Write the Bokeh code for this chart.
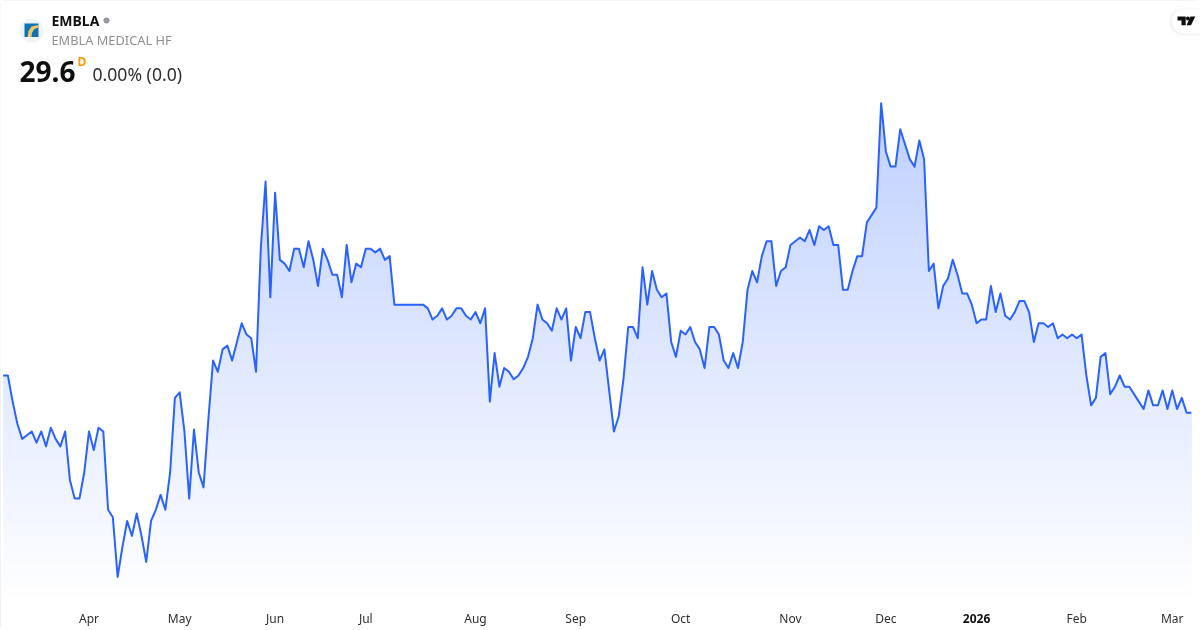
from bokeh.plotting import figure
from bokeh.models import Range1d, FixedTicker, Label, BoxAnnotation, LinearAxis
from bokeh.embed import file_html
from bokeh.resources import INLINE
import numpy as np

prices = [
    30.6, 30.6, 29.9, 29.3, 28.9, 29.0, 29.1, 28.8, 29.1, 28.7,
    29.2, 28.9, 28.7, 29.1, 27.8, 27.3, 27.3, 28.0, 29.1, 28.6,
    29.2, 29.1, 27.0, 26.8, 25.2, 26.0, 26.7, 26.3, 26.9, 26.3,
    25.6, 26.7, 27.0, 27.4, 27.0, 28.0, 30.0, 30.15, 29.1, 27.3,
    29.15, 28.0, 27.6, 29.4, 31.0, 30.7, 31.3, 31.4, 31.0, 31.5,
    32.0, 31.7, 31.6, 30.7, 34.0, 35.8, 32.7, 35.5, 33.7, 33.6,
    33.4, 34.0, 34.0, 33.5, 34.2, 33.7, 33.0, 34.0, 33.7, 33.3,
    33.3, 32.7, 34.1, 33.1, 33.6, 33.5, 34.0, 34.0, 33.9, 34.0,
    33.7, 33.8, 32.5, 32.5, 32.5, 32.5, 32.5, 32.5, 32.5, 32.4,
    32.1, 32.2, 32.4, 32.1, 32.2, 32.4, 32.4, 32.2, 32.1, 32.3,
    32.0, 32.4, 29.9, 31.2, 30.3, 30.8, 30.7, 30.5, 30.6, 30.8,
    31.1, 31.6, 32.5, 32.1, 32.0, 31.8, 32.4, 32.1, 32.4, 31.0,
    31.9, 31.6, 32.3, 32.3, 31.6, 31.0, 31.3, 30.2, 29.1, 29.5,
    30.5, 31.9, 31.9, 31.6, 33.5, 32.5, 33.4, 32.9, 32.7, 32.8,
    31.5, 31.1, 31.8, 31.7, 31.9, 31.5, 31.3, 30.8, 31.9, 31.9,
    31.7, 31.0, 30.8, 31.2, 30.8, 31.5, 32.9, 33.4, 33.1, 33.8,
    34.2, 34.2, 33.0, 33.4, 33.5, 34.1, 34.2, 34.3, 34.2, 34.5,
    34.1, 34.6, 34.5, 34.6, 34.1, 34.1, 32.9, 32.9, 33.4, 33.8,
    33.8, 34.7, 34.9, 35.1, 37.9, 36.6, 36.2, 36.2, 37.2, 36.8,
    36.4, 36.2, 36.9, 36.4, 33.4, 33.6, 32.4, 33.0, 33.2, 33.7,
    33.3, 32.8, 32.8, 32.5, 32.0, 32.1, 32.1, 33.0, 32.3, 32.8,
    32.2, 32.1, 32.3, 32.6, 32.6, 32.3, 31.5, 32.0, 32.0, 31.9,
    32.0, 31.6, 31.7, 31.6, 31.7, 31.6, 31.7, 30.6, 29.8, 30.0,
    31.1, 31.2, 30.1, 30.3, 30.6, 30.3, 30.3, 30.1, 29.9, 29.7,
    30.2, 29.8, 29.8, 30.2, 29.7, 30.2, 29.7, 30.0, 29.6, 29.6,
]
tick_positions = [18, 37, 57, 76, 99, 120, 142, 165, 185, 225, 245]
tick_labels = ["Apr", "May", "Jun", "Jul", "Aug", "Sep", "Oct", "Nov", "Dec", "Feb", "Mar"]
year_position = 204
year_label = "2026"
symbol = "EMBLA"
company = "EMBLA MEDICAL HF"
last_price = "29.6"
change_text = "0.00% (0.0)"

W, H, FRAME_H = 1200, 630, 602
X0, DX = 2.6, 4.772
Y_LAST, PX_PER_UNIT = 412.3, 37.3
FONT = "Noto Sans"
INK, SOFT_INK = "#0f0f0f", "#2e2e2e"


def X(px):
    return (px - X0) / DX


def Y(px):
    return prices[-1] + (Y_LAST - px) / PX_PER_UNIT


p = figure(
    width=W, height=H, output_backend="svg", toolbar_location=None,
    x_range=Range1d(X(0), X(W)), y_range=Range1d(Y(FRAME_H), Y(0)),
    min_border=0, min_border_bottom=H - FRAME_H, min_border_left=0, min_border_right=0, min_border_top=0,
    outline_line_color=None, background_fill_color="white", border_fill_color="white",
)
p.styles = {"position": "fixed", "left": "0", "top": "0", "outline": "1px solid #e6e7ea",
            "outline-offset": "-1px", "border-radius": "5px"}
p.grid.visible = False
p.yaxis.visible = False


def style_axis(a, positions, labels, standoff, font_style="normal", color=SOFT_INK):
    a.ticker = FixedTicker(ticks=positions)
    a.major_label_overrides = dict(zip(positions, labels))
    a.axis_line_color = None
    a.major_tick_line_color = None
    a.minor_tick_line_color = None
    a.major_label_text_font = FONT
    a.major_label_text_font_size = "12px"
    a.major_label_text_font_style = font_style
    a.major_label_text_color = color
    a.major_label_standoff = standoff


style_axis(p.xaxis[0], tick_positions, tick_labels, 1)
year_axis = LinearAxis()
style_axis(year_axis, [year_position], [year_label], -22, "bold", INK)
p.add_layout(year_axis, "below")

xs = np.arange(len(prices), dtype=float)
ys = np.array(prices)

# gradient under the line: each band runs to the pane bottom, white mask above the line
top_px = Y_LAST - (ys.max() - prices[-1]) * PX_PER_UNIT
edges = np.arange(np.floor(top_px), FRAME_H, 2.0)
fracs = 1 - (edges + 1 - top_px) / (FRAME_H - top_px)
alphas = 0.3 * np.clip(fracs, 0, 1)
cols = ["#%02x%02x%02x" % (round(255 + (41 - 255) * a), round(255 + (98 - 255) * a), 255) for a in alphas]
p.quad(left=xs[0], right=xs[-1], top=Y(edges), bottom=Y(FRAME_H), fill_color=cols, line_color=None)
mask_x = np.concatenate(([xs[0] - 1], xs, [xs[-1] + 1]))
mask_y = np.concatenate(([ys[0]], ys, [ys[-1]]))
p.varea(x=mask_x, y1=mask_y, y2=Y(0), fill_color="white")
p.line(xs, ys, line_color="#2962ff", line_width=2, line_join="round")


def txt(px, py, s, size, color, style="normal"):
    p.add_layout(Label(x=X(px), y=Y(py), text=s, text_font=FONT, text_font_size=size, text_color=color,
                       text_font_style=style, text_baseline="middle"))


def box(l, t, r, b, fill, radius=0, alpha=1.0):
    p.add_layout(BoxAnnotation(left=X(l), right=X(r), top=Y(t), bottom=Y(b), fill_color=fill, fill_alpha=alpha,
                               line_color=None, border_radius=radius, level="annotation"))


# header
box(19, 18, 43, 42, "#f0f3fa", radius=12)
box(24, 23, 38, 36.5, "#0a72b5")
p.patch(X(np.array([27, 28, 31, 38, 38, 34, 31.5, 31])), Y(np.array([36.5, 30.5, 26, 24.5, 27, 28.5, 32, 36.5])),
        fill_color="#f5c662", line_color=None, level="overlay")
txt(51, 20, symbol, "14px", INK, "bold")
box(103, 17, 109, 23, "#9598a1", radius=3)
txt(51, 39, company, "12.8px", "#8f8f8f")
txt(19, 71, last_price, "28px", INK, "bold")
txt(77, 61, "D", "12px", "#ff9800", "bold")
txt(92, 73, change_text, "17.6px", SOFT_INK)

# TradingView badge
for k, a in zip((3, 2, 1), (0.012, 0.02, 0.03)):
    box(1171 - k, 10 - k, 1214, 33 + k, "#000000", radius=12 + k, alpha=a)
box(1171, 9, 1214, 33, "white", radius=12)
p.patch(X(np.array([1177, 1185.2, 1185.2, 1181, 1181, 1177])), Y(np.array([16, 16, 24.7, 24.7, 20, 20])),
        fill_color=INK, line_color=None, level="overlay")
p.circle(X(1187.4), Y(18), radius=2 / DX, fill_color=INK, line_color=None, level="overlay")
p.patch(X(np.array([1190, 1194.8, 1190.5, 1186])), Y(np.array([16, 16, 24.7, 24.7])), fill_color=INK,
        line_color=None, level="overlay")

open("out.html", "w").write(file_html(p, INLINE))
